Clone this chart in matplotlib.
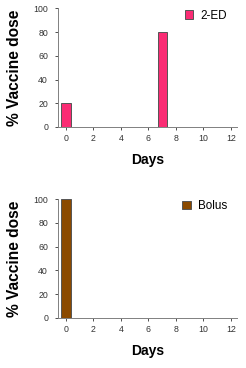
import matplotlib
matplotlib.use("Agg")
import matplotlib.pyplot as plt

plt.rcParams['font.family'] = ['Liberation Sans', 'DejaVu Sans']

days_2ed = [0, 7]
dose_2ed = [20, 80]
days_bolus = [0]
dose_bolus = [100]
xticks = [0, 2, 4, 6, 8, 10, 12]
yticks = [0, 20, 40, 60, 80, 100]

panels = [
    (days_2ed, dose_2ed, '2-ED', '#FA2C74', [0.236, 0.655, 0.727, 0.322]),
    (days_bolus, dose_bolus, 'Bolus', '#8B4A00', [0.236, 0.136, 0.727, 0.323]),
]

fig = plt.figure(figsize=(2.46, 3.68), dpi=100)
for days, dose, label, color, pos in panels:
    ax = fig.add_axes(pos)
    ax.bar(days, dose, width=0.66, color=color, edgecolor='#555555',
           linewidth=0.7, label=label)
    ax.set_xlim(-0.58, 12.44)
    ax.set_ylim(0, 100)
    ax.set_xticks(xticks)
    ax.set_yticks(yticks)
    ax.tick_params(labelsize=6.3, colors='#333333', length=2.2, width=0.6)
    ax.tick_params(axis='y', pad=5)
    ax.tick_params(axis='x', pad=3)
    for s in ['top', 'right']:
        ax.spines[s].set_visible(False)
    for s in ['left', 'bottom']:
        ax.spines[s].set_color('#808080')
        ax.spines[s].set_linewidth(0.7)
    ax.set_ylabel('% Vaccine dose', fontsize=11.2, fontweight='bold',
                  labelpad=8)
    ax.set_xlabel('Days', fontsize=10, fontweight='bold', labelpad=7)
    ax.legend(loc='upper right', bbox_to_anchor=(0.97, 1.03), fontsize=8.4,
              frameon=False, handlelength=0.7, handleheight=0.7,
              handletextpad=0.6, borderaxespad=0.0)

fig.savefig('out.png', dpi=100)
